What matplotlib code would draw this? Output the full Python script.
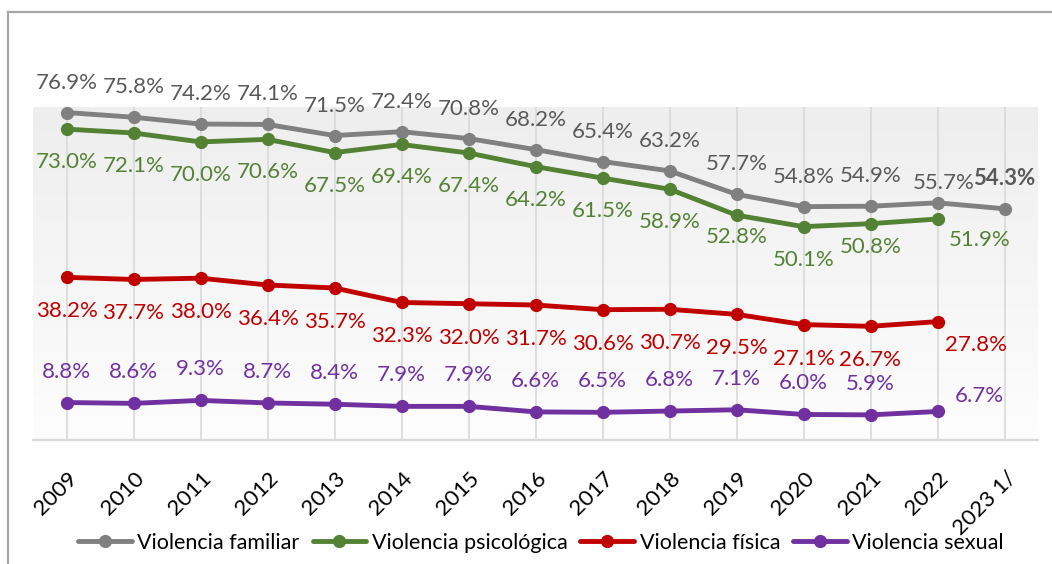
import numpy as np
import matplotlib
matplotlib.use('Agg')
from matplotlib import pyplot as plt
from matplotlib.lines import Line2D
from matplotlib.colors import LinearSegmentedColormap
import matplotlib.transforms as mtransforms

plt.rcParams['font.family'] = ['Lato', 'DejaVu Sans']

years = ['2009', '2010', '2011', '2012', '2013', '2014', '2015', '2016',
         '2017', '2018', '2019', '2020', '2021', '2022', '2023 1/']
familiar = [76.9, 75.8, 74.2, 74.1, 71.5, 72.4, 70.8, 68.2, 65.4, 63.2, 57.7, 54.8, 54.9, 55.7, 54.3]
psicologica = [73.0, 72.1, 70.0, 70.6, 67.5, 69.4, 67.4, 64.2, 61.5, 58.9, 52.8, 50.1, 50.8, 51.9]
fisica = [38.2, 37.7, 38.0, 36.4, 35.7, 32.3, 32.0, 31.7, 30.6, 30.7, 29.5, 27.1, 26.7, 27.8]
sexual = [8.8, 8.6, 9.3, 8.7, 8.4, 7.9, 7.9, 6.6, 6.5, 6.8, 7.1, 6.0, 5.9, 6.7]
names = ['Violencia familiar', 'Violencia psicológica', 'Violencia física', 'Violencia sexual']

W, H = 1052, 564
fig = plt.figure(figsize=(W / 100, H / 100), dpi=100)
# plot area in pixels: x 33..1038, y 107..440
ax = fig.add_axes([33 / W, (H - 440) / H, 1005 / W, 333 / H])
ax.set_xlim(-0.5, 14.5)

# soft vertical gradient background
grad = np.linspace(0, 1, 256).reshape(-1, 1)
cmap = LinearSegmentedColormap.from_list('bg', ['#fdfdfd', '#eeeeee'])
ax.imshow(grad, aspect='auto', cmap=cmap, extent=[-0.5, 14.5, 78.2, 0],
          zorder=0, interpolation='bicubic')
ax.set_ylim(0, 78.2)

x = np.arange(len(years))
for xi in x:
    ax.axvline(xi, color='#d9d9d9', lw=1.2, zorder=1)

series = [familiar, psicologica, fisica, sexual]
colors = ['#808080', '#548235', '#c00000', '#7030a0']
lblcolors = ['#595959', '#548235', '#c00000', '#7030a0']
for vals, c, n in zip(series, colors, names):
    ax.plot(x[:len(vals)], vals, color=c, lw=3.5, marker='o', ms=8.5, label=n,
            zorder=3, solid_capstyle='round')

# label offsets in pixels (dx, dy)
offs = [
    {i: (0, 30) for i in range(15)},
    {i: (0, -33) for i in range(14)},
    {i: (0, -34) for i in range(14)},
    {i: (0, 31) for i in range(14)},
]
offs[0][13] = (6, 20)
offs[1][10] = (0, -22)
offs[1][12] = (0, -23)
offs[1][13] = (42, -21)
offs[2][13] = (38, -23)
offs[3][13] = (42, 15)

for k, vals in enumerate(series):
    for i, v in enumerate(vals):
        dx, dy = offs[k][i]
        bold = (k == 0 and i == 14)
        ax.annotate(f'{v:.1f}%', (i, v), xytext=(dx, dy), textcoords='offset pixels',
                    ha='center', va='center', fontsize=16, color=lblcolors[k],
                    fontweight='bold' if bold else 'normal', zorder=5,
                    annotation_clip=False)

for s in ['left', 'right', 'top']:
    ax.spines[s].set_visible(False)
ax.spines['bottom'].set_color('#d9d9d9')
ax.spines['bottom'].set_linewidth(1.6)
ax.set_yticks([])
ax.set_xticks(x)
ax.set_xticklabels(years, rotation=45, ha='right', va='top', rotation_mode='anchor',
                   fontsize=16, color='#000000')
ax.tick_params(axis='x', length=0, pad=20)
shift = mtransforms.ScaledTranslation(1 / 100, 0, fig.dpi_scale_trans)
for lab in ax.get_xticklabels():
    lab.set_transform(lab.get_transform() + shift)

fig.legend(loc='center', bbox_to_anchor=(541 / W, (H - 543) / H), ncol=4, frameon=False,
           fontsize=15.5, handlelength=2.5, handletextpad=0.25, columnspacing=0.6,
           borderaxespad=0)

# outer frame (only top and left visible in the crop)
fig.add_artist(Line2D([8 / W, 8 / W], [0, (H - 12) / H], color='#a6a6a6', lw=1.6,
                      transform=fig.transFigure))
fig.add_artist(Line2D([8 / W, 1], [(H - 12) / H, (H - 12) / H], color='#a6a6a6', lw=1.6,
                      transform=fig.transFigure))

fig.savefig('out.png', dpi=100, facecolor='white')
